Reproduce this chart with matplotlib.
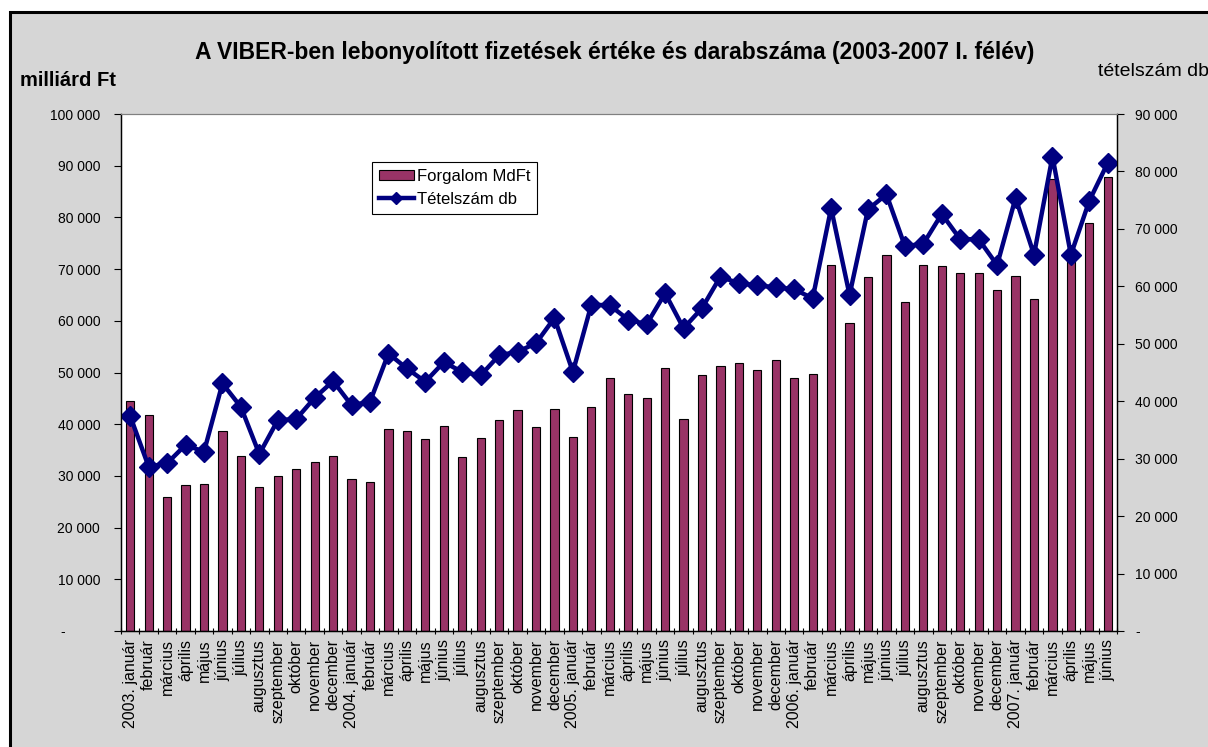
import numpy as np
import matplotlib.pyplot as plt
from matplotlib.patches import Rectangle
from matplotlib.ticker import FuncFormatter, FixedLocator

plt.rcParams['font.family'] = ['Liberation Sans', 'DejaVu Sans']

# honapok
month_names = ["január", "február", "március", "április", "május", "június",
               "július", "augusztus", "szeptember", "október", "november", "december"]
years = [2003, 2004, 2005, 2006, 2007]
labels = []
for y in years:
    for m, name in enumerate(month_names):
        if y == 2007 and m > 5:
            break
        labels.append(f"{y}. {name}" if m == 0 else name)

# Forgalom, milliard Ft (bal tengely)
forgalom = [44400, 41800, 26000, 28200, 28400, 38600, 33800, 27900, 30000, 31400, 32600, 33800,
            29400, 28900, 39000, 38700, 37200, 39700, 33700, 37300, 40800, 42700, 39500, 43000,
            37500, 43400, 49000, 45800, 45100, 50800, 41000, 49600, 51200, 51800, 50500, 52400,
            49000, 49700, 70700, 59500, 68400, 72700, 63600, 70800, 70600, 69200, 69200, 65900,
            68700, 64300, 87400, 72500, 78900, 87900]

# Tetelszam, db (jobb tengely)
tetelszam = [37400, 28600, 29200, 32400, 31200, 43100, 39000, 30800, 36700, 36900, 40600, 43500,
             39300, 39900, 48300, 45700, 43400, 46800, 45100, 44500, 48000, 48600, 50100, 54500,
             45100, 56800, 56700, 54200, 53400, 58800, 52700, 56200, 61700, 60500, 60200, 59800,
             59500, 57900, 73600, 58500, 73400, 76000, 67000, 67400, 72600, 68200, 68200, 63700,
             75400, 65500, 82600, 65500, 74900, 81500]

def thousands_left(v, pos):
    if v == 0:
        return "-" + " " * 9
    return f"{int(v):,}".replace(",", " ")

def thousands_right(v, pos):
    if v == 0:
        return "-"
    return f"{int(v):,}".replace(",", " ")

fig = plt.figure(figsize=(12.08, 7.47), dpi=100)
fig.patch.set_facecolor("white")
# szurke hatter keretezve
fig.patches.append(Rectangle((10 / 1208, -0.01), 1.02, 1 - 12 / 747 + 0.01,
                             transform=fig.transFigure, facecolor="#d6d6d6",
                             edgecolor="black", linewidth=2.2, zorder=-10))

ax = fig.add_axes([121 / 1208, 1 - 631 / 747, 996 / 1208, 517 / 747])
ax.set_facecolor("white")
x = np.arange(len(labels))
bars = ax.bar(x, forgalom, width=0.45, color="#993366", edgecolor="black", linewidth=0.8)
ax.set_xlim(-0.5, len(labels) - 0.5)
ax.set_ylim(0, 100000)
ax.set_yticks(np.arange(0, 100001, 10000))
ax.yaxis.set_major_formatter(FuncFormatter(thousands_left))
ax.set_xticks(x)
ax.set_xticklabels(labels, rotation=90, fontsize=11.5)
ax.tick_params(axis="x", which="major", length=0, pad=6)
ax.xaxis.set_minor_locator(FixedLocator(np.arange(-0.5, len(labels), 1)))
ax.tick_params(axis="x", which="minor", length=5, direction="inout", width=0.8)
ax.tick_params(axis="y", labelsize=10, length=5, width=0.8, direction="out", pad=10)

ax2 = ax.twinx()
line, = ax2.plot(x, tetelszam, color="#000080", linewidth=3.2, marker="D", markersize=10)
ax2.set_ylim(0, 90000)
ax2.set_yticks(np.arange(0, 90001, 10000))
ax2.yaxis.set_major_formatter(FuncFormatter(thousands_right))
ax2.tick_params(axis="y", labelsize=10, length=5, width=0.8, direction="out", pad=8)

for a in (ax, ax2):
    a.spines["top"].set_color("#808080")
    a.spines["left"].set_linewidth(0.9)
    a.spines["right"].set_linewidth(0.9)
    a.spines["bottom"].set_linewidth(0.9)

leg = ax2.legend([bars, line], ["Forgalom MdFt", "Tételszám db"], loc="upper left",
                 bbox_to_anchor=(0.252, 0.907), fontsize=12, frameon=True, fancybox=False,
                 framealpha=1, edgecolor="black", borderpad=0.4, handlelength=2.1,
                 handleheight=0.6, handletextpad=0.2, labelspacing=0.5, markerscale=0.6,
                 borderaxespad=0)
leg.get_frame().set_linewidth(0.8)

fig.text(615 / 1208, 1 - 52 / 747, "A VIBER-ben lebonyolított fizetések értéke és darabszáma (2003-2007 I. félév)",
         ha="center", va="center", fontsize=16.5, fontweight="bold")
fig.text(20 / 1208, 1 - 80 / 747, "milliárd Ft", ha="left", va="center", fontsize=14.5, fontweight="bold")
fig.text(1098 / 1208, 1 - 72 / 747, "tételszám db", ha="left", va="center", fontsize=14)

fig.savefig("out.png", dpi=100)
